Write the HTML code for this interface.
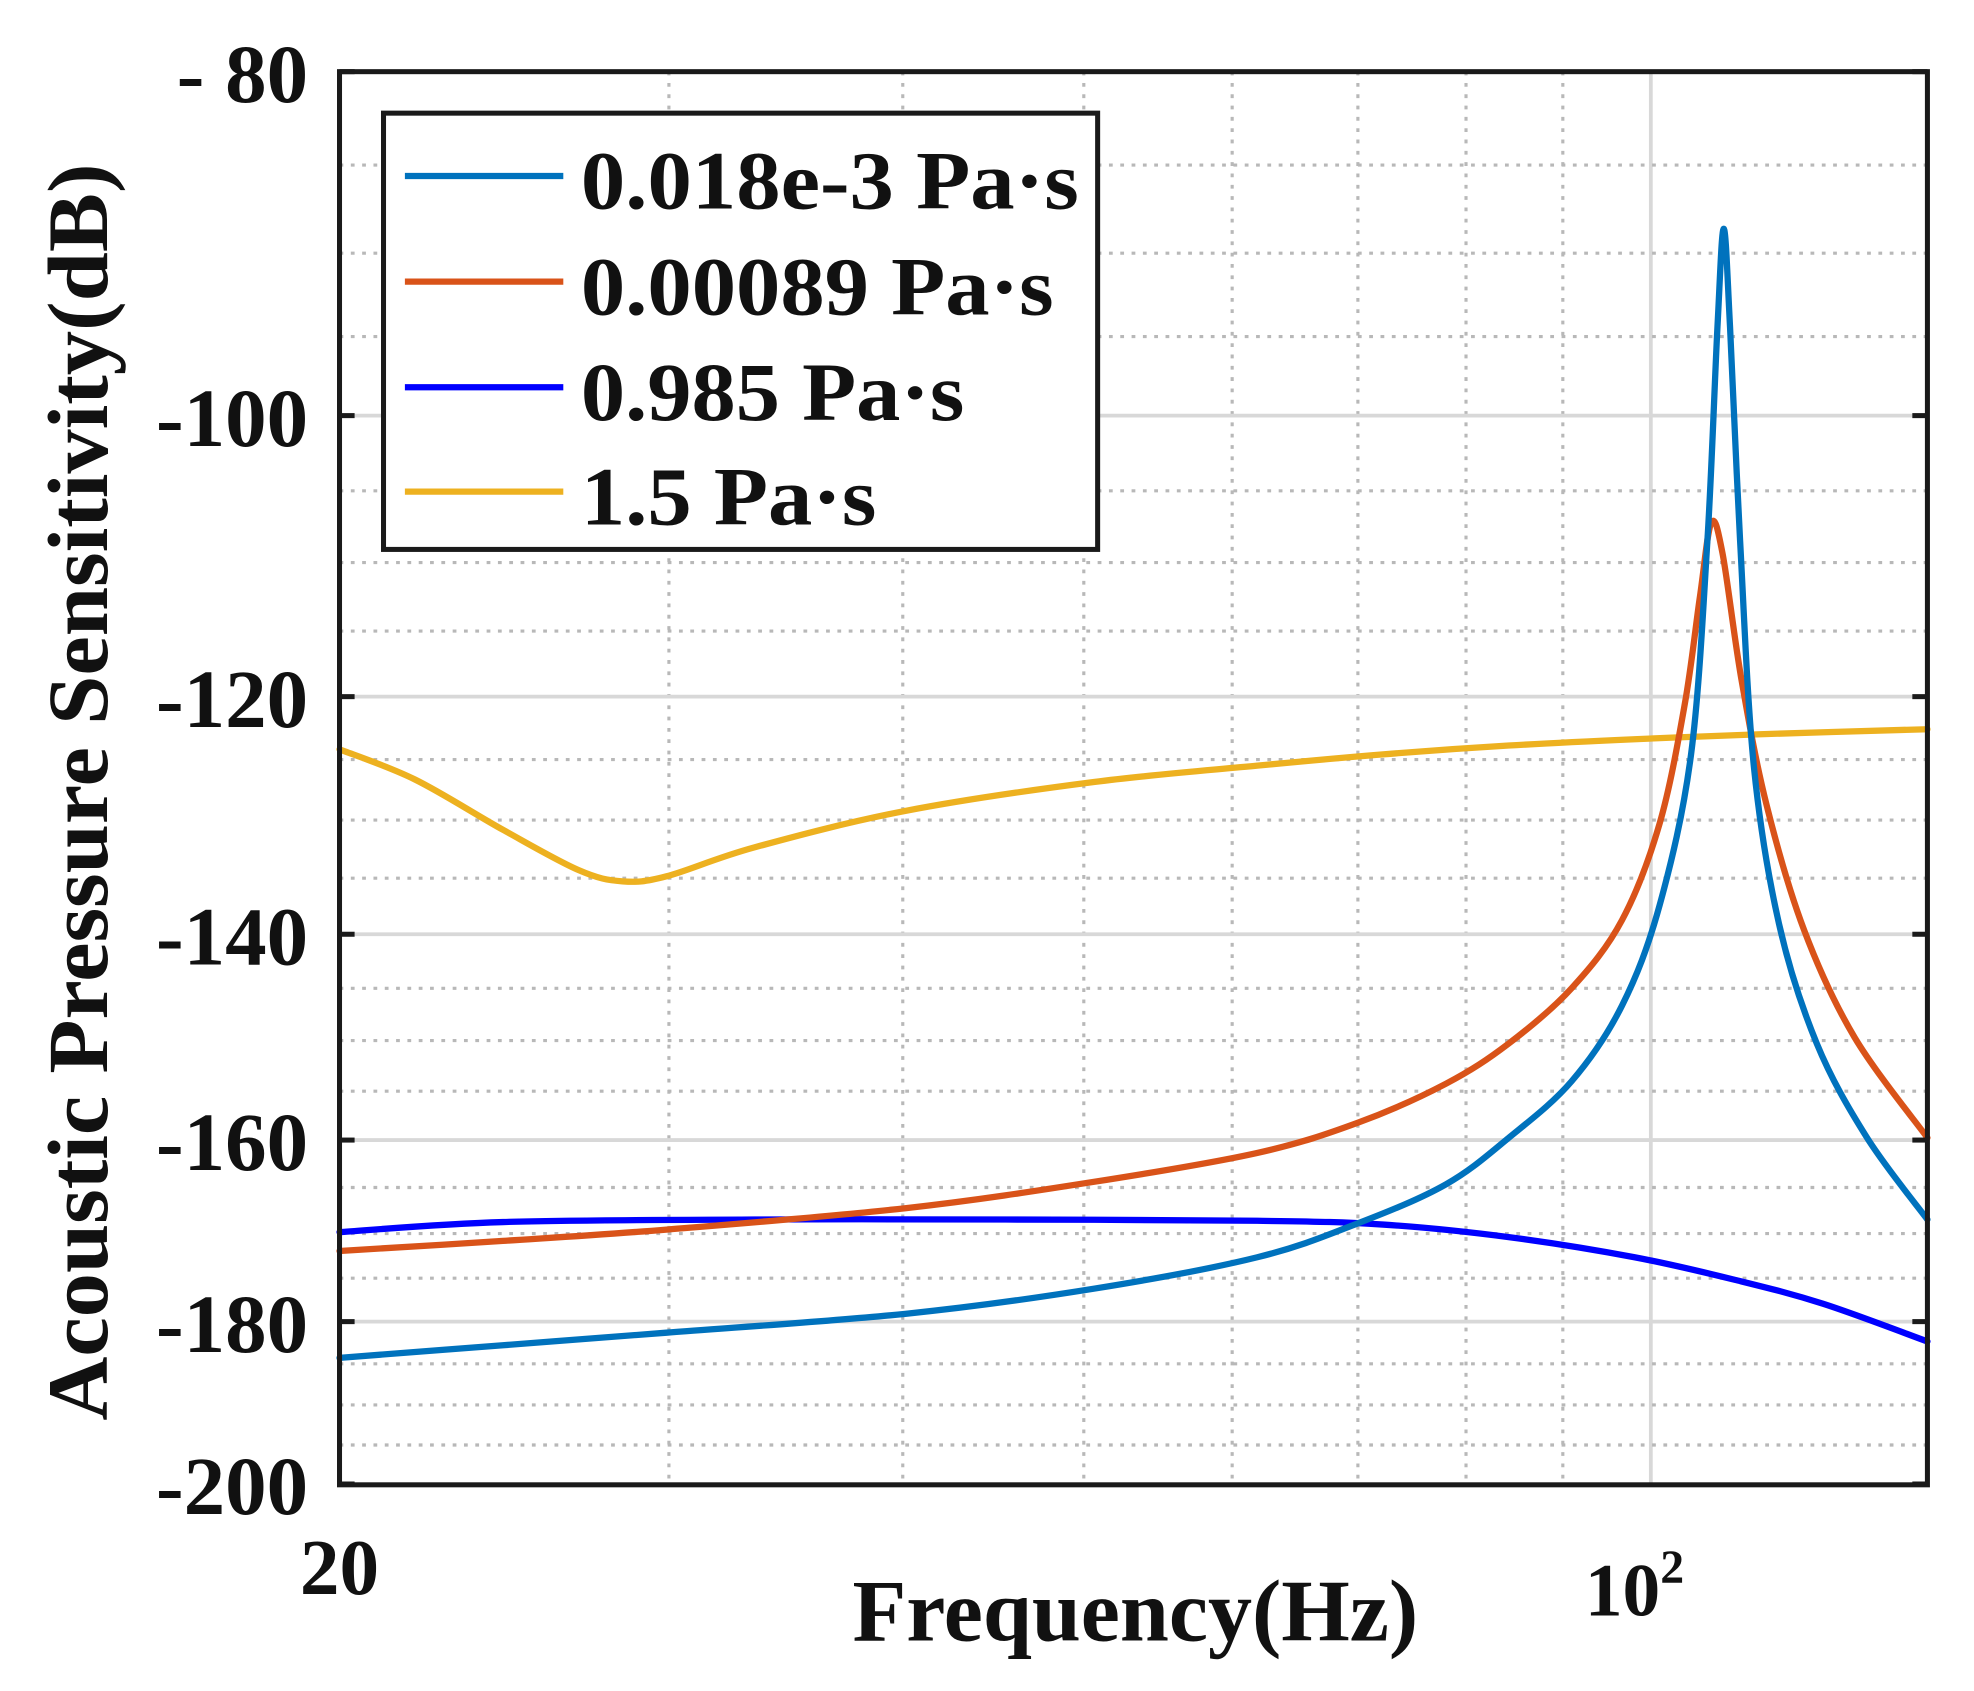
<!DOCTYPE html>
<html><head><meta charset="utf-8"><style>html,body{margin:0;padding:0;background:#fff}svg{display:block}</style></head>
<body>
<svg width="1974" height="1691" viewBox="0 0 1570 1345" xmlns="http://www.w3.org/2000/svg" font-family="Liberation Serif, serif" font-weight="bold">
<rect width="1570" height="1345" fill="#fff"/>
<g id="grid">
<g stroke="#b8b8b8" stroke-width="2.5" stroke-dasharray="3 6">
<line x1="532" y1="57" x2="532" y2="1181"/>
<line x1="718" y1="57" x2="718" y2="1181"/>
<line x1="862" y1="57" x2="862" y2="1181"/>
<line x1="980" y1="57" x2="980" y2="1181"/>
<line x1="1080" y1="57" x2="1080" y2="1181"/>
<line x1="1166" y1="57" x2="1166" y2="1181"/>
<line x1="1243" y1="57" x2="1243" y2="1181"/>
</g>
<line x1="1313" y1="57" x2="1313" y2="1181" stroke="#d8d8d8" stroke-width="3"/>
<g id="ygrid"></g>
</g>
<g id="curves" fill="none" stroke-width="5" stroke-linejoin="round" stroke-linecap="round"></g>
<g id="axes">
<rect x="270" y="57" width="1263" height="1124" fill="none" stroke="#1a1a1a" stroke-width="4"/>
<g id="yticks" stroke="#1a1a1a" stroke-width="4"></g>
</g>
<g id="legend">
<rect x="305" y="90" width="568" height="347" fill="#fff" stroke="#1a1a1a" stroke-width="4"/>
<line x1="322" y1="140" x2="448" y2="140" stroke="#0072BD" stroke-width="5"/>
<line x1="322" y1="224" x2="448" y2="224" stroke="#D95319" stroke-width="5"/>
<line x1="322" y1="308" x2="448" y2="308" stroke="#0000FF" stroke-width="5"/>
<line x1="322" y1="391" x2="448" y2="391" stroke="#EDB120" stroke-width="5"/>
<g font-size="66" fill="#111">
<text x="462" y="166" textLength="396" lengthAdjust="spacingAndGlyphs">0.018e-3 Pa·s</text>
<text x="462" y="250" textLength="376" lengthAdjust="spacingAndGlyphs">0.00089 Pa·s</text>
<text x="462" y="334" textLength="305" lengthAdjust="spacingAndGlyphs">0.985 Pa·s</text>
<text x="462" y="417" textLength="235" lengthAdjust="spacingAndGlyphs">1.5 Pa·s</text>
</g>
</g>
<g font-size="66" fill="#111" text-anchor="end" id="ylabels"></g>
<text x="270" y="1268" font-size="63" text-anchor="middle" fill="#111">20</text>
<text x="1300" y="1285" font-size="60" text-anchor="middle" fill="#111">10<tspan font-size="38" dy="-26">2</tspan></text>
<text x="903" y="1305" font-size="70" text-anchor="middle" fill="#111" textLength="450" lengthAdjust="spacingAndGlyphs">Frequency(Hz)</text>
<text transform="translate(85,630) rotate(-90)" font-size="68" text-anchor="middle" fill="#111" textLength="1000" lengthAdjust="spacingAndGlyphs">Acoustic Pressure Sensitivity(dB)</text>
</svg>
<script>
(function(){
var ns="http://www.w3.org/2000/svg";
function y(v){return 57+1226*Math.log(v/80);}
var g=document.getElementById('ygrid'),t=document.getElementById('yticks'),l=document.getElementById('ylabels');
for(var v=85;v<200;v+=5){
 var yy=y(v);var maj=(v%20==0);
 var ln=document.createElementNS(ns,'line');
 ln.setAttribute('x1',270);ln.setAttribute('x2',1533);ln.setAttribute('y1',yy);ln.setAttribute('y2',yy);
 if(maj){ln.setAttribute('stroke','#d8d8d8');ln.setAttribute('stroke-width','3');}
 else{ln.setAttribute('stroke','#b8b8b8');ln.setAttribute('stroke-width','2.5');ln.setAttribute('stroke-dasharray','3 6');}
 g.appendChild(ln);
}
[80,100,120,140,160,180,200].forEach(function(v){
 var yy=y(v);
 [[270,282],[1521,1533]].forEach(function(p){var a=document.createElementNS(ns,'line');a.setAttribute('x1',p[0]);a.setAttribute('x2',p[1]);a.setAttribute('y1',yy);a.setAttribute('y2',yy);t.appendChild(a);});
 var tx=document.createElementNS(ns,'text');tx.setAttribute('x',245);tx.setAttribute('y',yy+24);
 tx.textContent=(v==80?'- 80':'-'+v);l.appendChild(tx);
});
function cr(p,ten){ten=ten||6;var d='M'+p[0][0]+','+p[0][1];
 for(var i=0;i<p.length-1;i++){var a=p[i-1]||p[i],b=p[i],c=p[i+1],e=p[i+2]||c;
  d+=' C'+(b[0]+(c[0]-a[0])/ten)+','+(b[1]+(c[1]-a[1])/ten)+' '+(c[0]-(e[0]-b[0])/ten)+','+(c[1]-(e[1]-b[1])/ten)+' '+c[0]+','+c[1];}
 return d;}
var C=document.getElementById('curves');
function add(col,pts){var p=document.createElementNS(ns,'path');p.setAttribute('stroke',col);p.setAttribute('d',cr(pts));C.appendChild(p);}
add('#EDB120',[[270,596],[330,620],[400,660],[460,692],[495,701],[530,697],[600,674],[720,645],[870,622],[1000,609],[1100,600],[1200,593],[1300,588],[1400,584],[1533,580]]);
add('#0000FF',[[270,980],[400,972],[600,970],[800,970],[1000,971],[1100,974],[1200,984],[1300,1000],[1380,1018],[1450,1037],[1533,1067]]);
add('#D95319',[[270,995],[400,987],[530,978],[720,961],[870,940],[1000,917],[1080,893],[1150,862],[1200,830],[1250,786],[1290,732],[1320,655],[1340,560],[1352,475],[1361,416],[1370,440],[1385,540],[1405,640],[1435,740],[1475,825],[1533,905]]);
add('#0072BD',[[270,1080],[400,1070],[530,1060],[720,1045],[870,1025],[1000,1000],[1080,973],[1150,942],[1200,905],[1250,860],[1290,800],[1320,720],[1345,600],[1358,430],[1366,260],[1371,182],[1376,260],[1384,430],[1395,610],[1415,735],[1445,830],[1485,905],[1533,970]]);
})();
</script>
</body></html>
